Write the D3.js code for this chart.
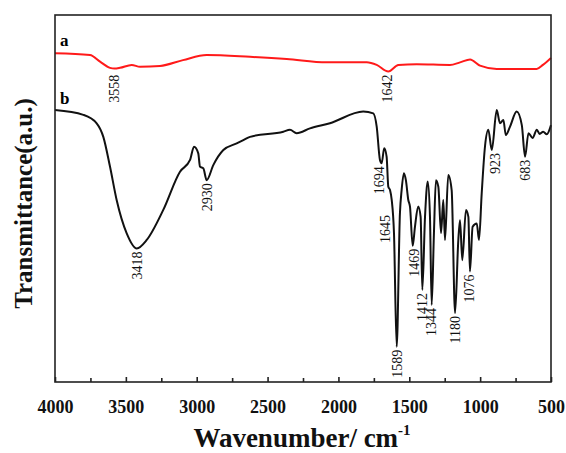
<!DOCTYPE html>
<html>
<head>
<meta charset="utf-8">
<script src="https://cdn.jsdelivr.net/npm/d3@7/dist/d3.min.js"></script>
<style>
  body { margin: 0; background: #fff; }
  svg { display: block; }
</style>
</head>
<body>
<div id="chart"></div>
<script>
// FTIR spectra, wavenumber (cm-1) vs transmittance (a.u.)
const wavenumbersA = [4000, 3753, 3682, 3612, 3580, 3541, 3459, 3400, 3259, 3097, 2930, 2624, 2365, 2083, 1800, 1730, 1648, 1577, 1448, 1213, 1142, 1071, 1001, 883, 601, 557, 500];
const transA =       [89.6, 89.1, 87.3, 85.6, 85.4, 85.6, 86.4, 85.9, 86.1, 87.7, 89.1, 88.6, 88.0, 87.1, 87.1, 86.4, 84.6, 86.4, 86.6, 86.4, 87.1, 87.9, 86.2, 85.3, 85.3, 86.4, 88.3];

const wavenumbersB = [4000, 3800, 3706, 3659, 3612, 3565, 3494, 3423, 3353, 3236, 3118, 3047, 3019, 2989, 2977, 2953, 2930, 2883, 2812, 2718, 2671, 2624, 2389, 2342, 2295, 2201, 2060, 1825, 1754, 1730, 1707, 1695, 1677, 1660, 1648, 1636, 1624, 1608, 1589, 1566, 1554, 1538, 1524, 1507, 1495, 1476, 1460, 1437, 1420, 1408, 1389, 1370, 1354, 1342, 1326, 1312, 1295, 1276, 1260, 1248, 1225, 1201, 1177, 1154, 1142, 1126, 1100, 1083, 1072, 1053, 1024, 1008, 989, 966, 942, 918, 883, 860, 836, 819, 789, 742, 706, 683, 659, 630, 600, 580, 555, 530, 500];
const transB =       [74.1, 72.8, 70.5, 66.8, 58.7, 49.6, 40.5, 36.4, 38.7, 46.9, 57.3, 60.5, 64.1, 62.3, 58.7, 58.2, 55.0, 59.1, 63.2, 65.0, 65.9, 66.8, 68.2, 68.7, 67.8, 69.1, 70.5, 73.7, 73.2, 69.6, 60.5, 59.6, 63.7, 61.4, 53.2, 52.3, 49.6, 40.6, 9.6, 46.0, 52.3, 56.9, 55.0, 49.6, 47.8, 37.1, 42.3, 47.8, 45.0, 25.1, 45.0, 54.6, 45.0, 21.0, 40.6, 55.0, 53.2, 40.6, 49.6, 38.7, 56.4, 52.3, 18.8, 38.7, 44.1, 33.2, 46.9, 45.0, 30.1, 42.3, 43.2, 38.7, 51.4, 64.1, 68.7, 63.2, 74.1, 70.5, 71.4, 67.3, 69.6, 73.7, 70.0, 61.4, 67.8, 66.5, 68.7, 67.6, 68.2, 67.5, 70.0];

const peaksA = [3558, 1642];
const peaksB = [3418, 2930, 1694, 1645, 1589, 1469, 1412, 1344, 1180, 1076, 923, 683];

const xTicks = [4000, 3500, 3000, 2500, 2000, 1500, 1000, 500];
const xMinorTicks = [3750, 3250, 2750, 2250, 1750, 1250, 750];

const seriesNames = ["a", "b"];
const seriesColors = ["#ff1a1a", "#111111"];

const width = 566, height = 453;
const margin = { top: 15, right: 15, bottom: 71, left: 55 };
const innerWidth = width - margin.left - margin.right;
const innerHeight = height - margin.top - margin.bottom;

const serif = "'Liberation Serif', 'Times New Roman', serif";

const svg = d3.select("#chart").append("svg")
    .attr("width", width).attr("height", height);
const g = svg.append("g").attr("transform", `translate(${margin.left},${margin.top})`);

const x = d3.scaleLinear().domain([4000, 500]).range([0, innerWidth]);
const y = d3.scaleLinear().domain([0, 100]).range([innerHeight, 0]);

const seriesA = wavenumbersA.map((w, i) => ({ w, t: transA[i] }));
const seriesB = wavenumbersB.map((w, i) => ({ w, t: transB[i] }));

const line = d3.line().x(d => x(d.w)).y(d => y(d.t)).curve(d3.curveMonotoneX);

// spectra
[seriesA, seriesB].forEach((s, i) => {
    g.append("path").datum(s)
        .attr("d", line)
        .attr("fill", "none")
        .attr("stroke", seriesColors[i])
        .attr("stroke-width", 2)
        .attr("stroke-linejoin", "round");
});

// peak labels sit just below the local minimum of their curve
const labelShift = { 1645: { dx: -4, dy: 22 }, 1694: { dx: -3, dy: 0 }, 923: { dx: 4, dy: 0 }, 3558: { dx: -4, dy: 4 }, 1642: { dx: -2, dy: 0 } };
function addPeakLabels(series, peaks) {
    peaks.forEach(p => {
        const near = series.filter(d => Math.abs(d.w - p) <= 20);
        const low = d3.min(near, d => d.t);
        const shift = labelShift[p] || { dx: 0, dy: 0 };
        const px = x(p) + shift.dx;
        const py = y(low) + 3 + shift.dy;
        g.append("text")
            .attr("transform", `translate(${px},${py}) rotate(-90)`)
            .attr("text-anchor", "end")
            .attr("dy", "0.35em")
            .style("font-family", serif)
            .style("font-size", "14px")
            .style("fill", "#111")
            .text(p);
    });
}
addPeakLabels(seriesA, peaksA);
addPeakLabels(seriesB, peaksB);

// curve names
g.append("text").attr("x", 5).attr("y", 31).text(seriesNames[0])
    .style("font-family", serif).style("font-size", "17px").style("font-weight", "bold");
g.append("text").attr("x", 5).attr("y", 89).text(seriesNames[1])
    .style("font-family", serif).style("font-size", "17px").style("font-weight", "bold");

// frame
g.append("rect")
    .attr("width", innerWidth).attr("height", innerHeight)
    .attr("fill", "none").attr("stroke", "#222").attr("stroke-width", 1.6);

// x axis, ticks pointing inwards
const xAxis = g.append("g").attr("transform", `translate(0,${innerHeight})`)
    .call(d3.axisBottom(x).tickValues(xTicks).tickSizeInner(-5).tickSizeOuter(0).tickPadding(18).tickFormat(d3.format("d")));
xAxis.select(".domain").remove();
xAxis.selectAll(".tick line").attr("stroke", "#222").attr("stroke-width", 1.6);
xAxis.selectAll("text")
    .style("font-family", serif).style("font-size", "18px").style("font-weight", "bold").style("fill", "#111");

const xMinor = g.append("g").attr("transform", `translate(0,${innerHeight})`)
    .call(d3.axisBottom(x).tickValues(xMinorTicks).tickSizeInner(-4).tickSizeOuter(0).tickFormat(""));
xMinor.select(".domain").remove();
xMinor.selectAll(".tick line").attr("stroke", "#222").attr("stroke-width", 1.6);

// axis titles
const xTitle = svg.append("text")
    .attr("x", 302).attr("y", 447)
    .attr("text-anchor", "middle")
    .style("font-family", serif).style("font-size", "27px").style("font-weight", "bold").style("fill", "#111");
xTitle.append("tspan").text("Wavenumber/ cm");
xTitle.append("tspan").attr("dy", "-12").style("font-size", "15px").text("-1");

svg.append("text")
    .attr("transform", `translate(32,${margin.top + innerHeight / 2 + 5}) rotate(-90)`)
    .attr("text-anchor", "middle")
    .style("font-family", serif).style("font-size", "25px").style("font-weight", "bold").style("fill", "#111")
    .text("Transmittance(a.u.)");
</script>
</body>
</html>
